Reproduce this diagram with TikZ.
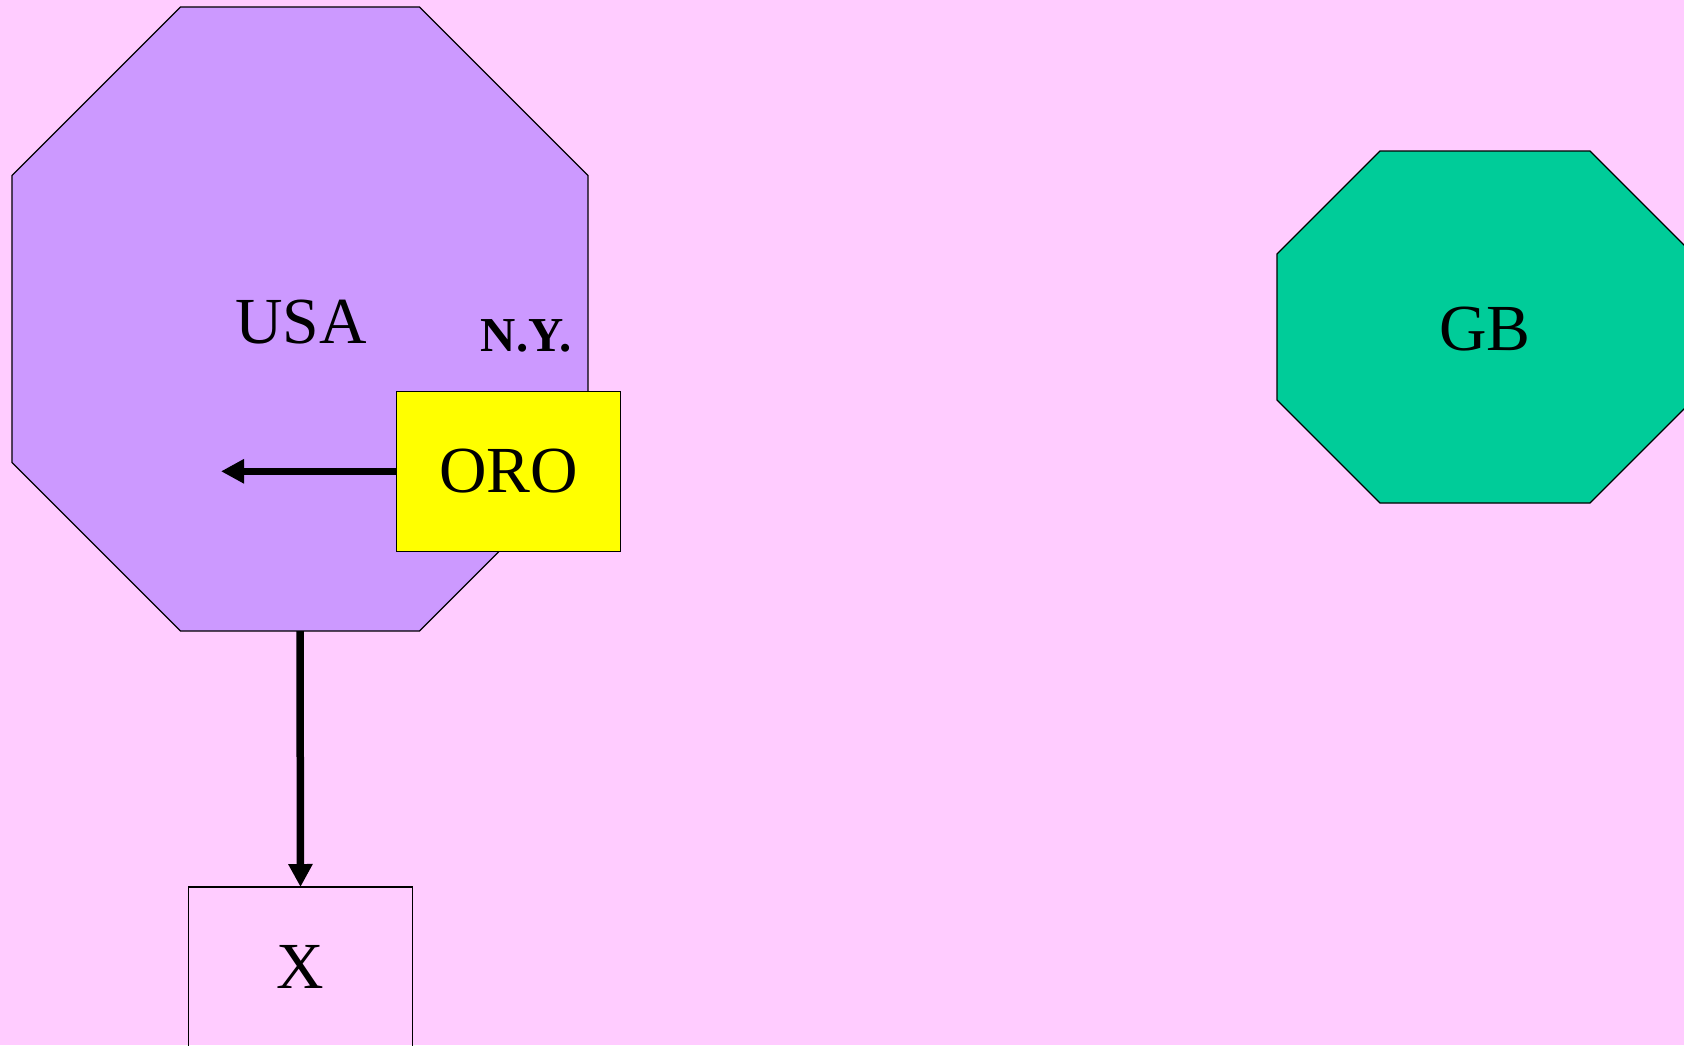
\documentclass[tikz,border=0pt]{standalone}
\usepackage{fontspec}
\setmainfont{Liberation Serif}
\usetikzlibrary{arrows.meta}

\definecolor{paper}{HTML}{FFCCFF}
\definecolor{usafill}{HTML}{CC99FF}
\definecolor{gbfill}{HTML}{00CC99}
\definecolor{orofill}{HTML}{FFFF00}

% octagon drawn on the bounding box of an (invisible) node, corners cut by #2
\newcommand\octpath[2]{%
  ([xshift=#2]#1.north west) -- ([xshift=-#2]#1.north east) --
  ([yshift=-#2]#1.north east) -- ([yshift=#2]#1.south east) --
  ([xshift=-#2]#1.south east) -- ([xshift=#2]#1.south west) --
  ([yshift=#2]#1.south west) -- ([yshift=-#2]#1.north west) -- cycle}

\tikzset{
  area/.style={inner sep=0pt, outer sep=0pt, draw=none},
  outline/.style={draw=black, line width=1.2bp},
  bigtext/.style={font=\fontsize{66}{70}\selectfont},
  boxnode/.style={outline, inner sep=0pt, outer sep=0pt,
    minimum width=224bp, minimum height=160bp,
    bigtext, text height=43bp, text depth=0pt},
  flow/.style={line width=7.5bp, -{Triangle[length=23bp,width=23bp]}},
}

\begin{document}
\begin{tikzpicture}[x=1bp, y=-1bp]
  \useasboundingbox (0,0) rectangle (1684,1045);
  \fill[paper] (0,0) rectangle (1684,1045);

  % regions
  \node[area, minimum width=576bp, minimum height=624bp] (usa) at (300,319) {};
  \filldraw[fill=usafill, outline] \octpath{usa}{168.5bp};
  \node[area, minimum width=416bp, minimum height=352bp] (gb) at (1485,327) {};
  \filldraw[fill=gbfill, outline] \octpath{gb}{103bp};

  % labels
  \node[bigtext, anchor=base] (usalabel) at (300.8,343.3) {USA};
  \node[font=\fontsize{49}{52}\selectfont\bfseries, anchor=base] (nylabel) at (526,351) {N.Y.};
  \node[bigtext, anchor=base] (gblabel) at (1484.7,350.7) {GB};

  % boxes
  \node[boxnode, fill=orofill] (oro) at (508.8,471.3) {ORO};
  \node[boxnode] (x) at (300.5,967) {X};

  % flows
  \coordinate (orotip) at (221,471.3);
  \draw[flow] (oro.west) -- (orotip);
  \draw[flow] (usa.south) -- (x.north);
\end{tikzpicture}
\end{document}
